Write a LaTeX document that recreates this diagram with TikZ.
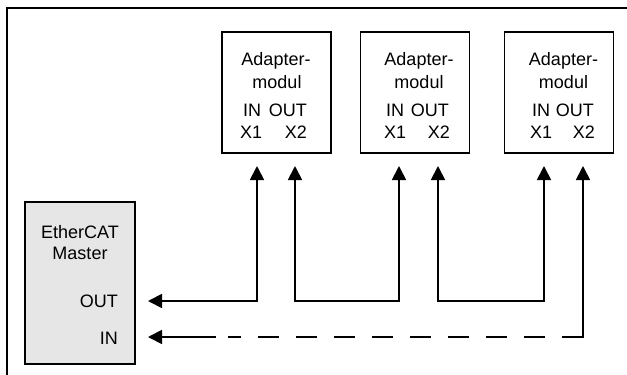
\documentclass[tikz,border=0pt]{standalone}
\usepackage{fontspec}
\setmainfont{Liberation Sans}
\usetikzlibrary{arrows.meta,calc}
\definecolor{mastergray}{RGB}{230,230,230}
\begin{document}
\begin{tikzpicture}[x=1pt,y=-1pt,
  >={Triangle[length=14pt,width=14pt]},
  frameline/.style={line width=1.8pt,line cap=rect},
  modbox/.style={draw,line width=1.8pt,minimum width=109pt,minimum height=121pt,inner sep=0pt},
  masterbox/.style={draw,fill=mastergray,line width=1.8pt,minimum width=110pt,minimum height=162pt,inner sep=0pt},
  lbl/.style={inner sep=0pt,font=\fontsize{18}{22}\selectfont,anchor=base},
  lblw/.style={lbl,anchor=base west},
  lble/.style={lbl,anchor=base east},
  conn/.style={line width=1.8pt},
  dashconn/.style={line width=1.8pt,dash pattern=on 21pt off 17pt,dash phase=0pt}]
\useasboundingbox (0,0) rectangle (627,375);
% frame
\draw[frameline] (7,385) -- (7,8) -- (640,8);
% modules
\node[modbox] (m1) at (276.5,92.5) {};
\node[modbox] (m2) at (415,92.5) {};
\node[modbox] (m3) at (559,92.5) {};
% module texts
\node[lbl] (m1t1) at (276,65) {Adapter-};
\node[lbl] (m1t2) at (277,88) {modul};
\node[lblw] (m1in) at (243,116.5) {IN};
\node[lble] (m1out) at (307,116.5) {OUT};
\node[lblw] (m1x1) at (240,138.5) {X1};
\node[lble] (m1x2) at (307,138.5) {X2};
\node[lbl] (m2t1) at (419,65) {Adapter-};
\node[lbl] (m2t2) at (419,88) {modul};
\node[lblw] (m2in) at (386,116.5) {IN};
\node[lble] (m2out) at (449,116.5) {OUT};
\node[lblw] (m2x1) at (384,138.5) {X1};
\node[lble] (m2x2) at (450,138.5) {X2};
\node[lbl] (m3t1) at (563.5,65) {Adapter-};
\node[lbl] (m3t2) at (563.5,88) {modul};
\node[lblw] (m3in) at (532,116.5) {IN};
\node[lble] (m3out) at (594,116.5) {OUT};
\node[lblw] (m3x1) at (530,138.5) {X1};
\node[lble] (m3x2) at (595,138.5) {X2};
% master
\node[masterbox] (master) at (80,283) {};
\node[lbl] (mt1) at (80,238.5) {EtherCAT};
\node[lbl] (mt2) at (80,259.5) {Master};
\node[lble] (mout) at (118,307.5) {OUT};
\node[lble] (min) at (118,344) {IN};
% ports
\coordinate (p1a) at (257,166);
\coordinate (p1b) at (295,166);
\coordinate (p2a) at (399,166);
\coordinate (p2b) at (438,166);
\coordinate (p3a) at (544,166);
\coordinate (p3b) at (583,166);
\coordinate (po) at (148,301);
\coordinate (pi) at (148,337);
% connectors
\draw[conn,<->] (po) -| (p1a);
\draw[conn,<->] (p1b) -- (p1b |- po) -| (p2a);
\draw[conn,<->] (p2b) -- (p2b |- po) -| (p3a);
\coordinate (c4) at (p3b |- pi);
\coordinate (d4) at (228,337);
\coordinate (e4) at (216,337);
\draw[conn,line cap=rect,<-] (p3b) -- (c4);
\draw[dashconn] (c4) -- (d4);
\draw[conn,->] (e4) -- (pi);
\end{tikzpicture}
\end{document}
